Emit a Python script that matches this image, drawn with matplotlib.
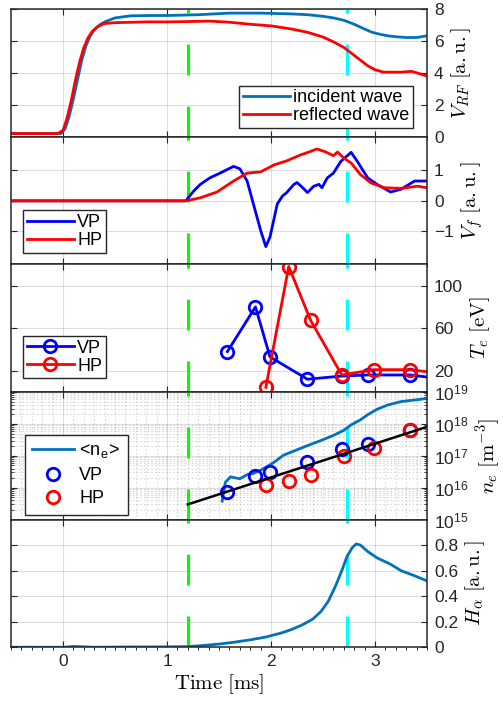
import numpy as np
import matplotlib
matplotlib.use("Agg")
import matplotlib.pyplot as plt
from matplotlib.ticker import MultipleLocator, LogLocator, NullFormatter

plt.rcParams['font.family'] = ['Liberation Sans', 'DejaVu Sans']
plt.rcParams['mathtext.fontset'] = 'cm'
plt.rcParams['lines.scale_dashes'] = False

# RF voltage: incident and reflected
t_inc = [-0.5, -0.02, 0.02, 0.06, 0.10, 0.14, 0.18, 0.22, 0.26, 0.30, 0.35, 0.40, 0.50,
         0.65, 0.85, 1.0, 1.3, 1.6, 1.9, 2.2, 2.35, 2.5, 2.6, 2.7, 2.8, 2.9, 2.97, 3.05,
         3.12, 3.2, 3.3, 3.4, 3.5]
v_inc = [0.2, 0.2, 0.5, 1.3, 2.4, 3.6, 4.8, 5.7, 6.3, 6.7, 7.0, 7.2, 7.45,
         7.58, 7.6, 7.6, 7.65, 7.75, 7.75, 7.7, 7.65, 7.55, 7.45, 7.3, 7.05, 6.75, 6.55, 6.42,
         6.33, 6.27, 6.22, 6.22, 6.33]
t_ref = [-0.5, -0.05, 0.0, 0.04, 0.08, 0.12, 0.16, 0.20, 0.24, 0.28, 0.33, 0.40, 0.50,
         0.8, 1.0, 1.2, 1.4, 1.6, 1.8, 2.0, 2.2, 2.35, 2.5, 2.6, 2.7, 2.78, 2.86, 2.93,
         3.0, 3.08, 3.15, 3.25, 3.35, 3.43, 3.5]
v_ref = [0.2, 0.2, 0.4, 1.2, 2.3, 3.6, 4.7, 5.6, 6.2, 6.6, 6.9, 7.1, 7.15,
         7.2, 7.2, 7.22, 7.25, 7.18, 7.05, 6.95, 6.75, 6.55, 6.25, 5.95, 5.6, 5.2, 4.8, 4.45,
         4.2, 4.05, 4.05, 4.05, 4.1, 3.95, 3.8]

# floating potential
t_vf_hp = [-0.5, 1.18, 1.32, 1.48, 1.64, 1.77, 1.9, 2.03, 2.15, 2.28, 2.38, 2.44, 2.52,
           2.6, 2.64, 2.7, 2.77, 2.86, 2.96, 3.09, 3.25, 3.41, 3.5]
vf_hp = [0, 0, 0.1, 0.29, 0.65, 0.91, 0.95, 1.18, 1.31, 1.5, 1.62, 1.7, 1.61,
         1.48, 1.6, 1.4, 1.24, 0.86, 0.59, 0.43, 0.41, 0.48, 0.43]
t_vf_vp = [-0.5, 1.18, 1.25, 1.32, 1.41, 1.51, 1.64, 1.70, 1.77, 1.83, 1.9, 1.95, 1.99,
           2.06, 2.11, 2.15, 2.22, 2.25, 2.32, 2.35, 2.41, 2.46, 2.49, 2.54, 2.6, 2.67,
           2.77, 2.83, 2.93, 3.02, 3.15, 3.25, 3.38, 3.5]
vf_vp = [0, 0, 0.3, 0.54, 0.75, 0.91, 1.13, 1.05, 0.65, -0.1, -0.97, -1.5, -1.18,
         -0.1, 0.16, 0.27, 0.54, 0.6, 0.38, 0.27, 0.48, 0.54, 0.43, 0.75, 0.91, 1.29,
         1.59, 1.29, 0.75, 0.54, 0.29, 0.38, 0.65, 0.65]

# electron temperature
t_te_vp = [1.58, 1.85, 1.99, 2.35, 2.68, 2.93, 3.34, 3.75]
te_vp = [38, 80, 33, 12, 15, 16, 16, 11]
t_te_hp = [1.95, 2.17, 2.38, 2.68, 2.99, 3.34, 3.75]
te_hp = [4.4, 118, 67.5, 16, 21, 21, 16]

# density: line-averaged, probes and exponential fit
t_nel = [1.53, 1.56, 1.61, 1.70, 1.77, 1.83, 1.90, 1.96, 2.03, 2.12, 2.22, 2.35, 2.48,
         2.60, 2.70, 2.77, 2.86, 2.93, 3.02, 3.12, 3.25, 3.41, 3.50]
log_nel = [15.58, 16.17, 16.34, 16.28, 16.41, 16.45, 16.55, 16.66, 16.80, 17.02, 17.15,
           17.32, 17.48, 17.64, 17.80, 17.97, 18.13, 18.29, 18.46, 18.59, 18.70, 18.76, 18.80]
t_ne_vp = [1.58, 1.85, 1.99, 2.35, 2.68, 2.93, 3.34]
log_ne_vp = [15.87, 16.37, 16.48, 16.80, 17.21, 17.37, 17.80]
t_ne_hp = [1.95, 2.17, 2.38, 2.70, 2.99, 3.34]
log_ne_hp = [16.10, 16.21, 16.41, 16.99, 17.24, 17.80]
t_fit = [1.2, 3.5]
ne_fit = [3.0e15, 8.1e17]

# H-alpha
t_ha = [-0.5, 0.0, 0.1, 0.3, 0.6, 1.0, 1.2, 1.35, 1.5, 1.65, 1.8, 1.95, 2.1, 2.2, 2.3,
        2.4, 2.48, 2.55, 2.62, 2.68, 2.73, 2.78, 2.82, 2.86, 2.93, 3.02, 3.15, 3.25,
        3.38, 3.5]
ha = [0.0, 0.0, 0.006, 0.0, 0.002, 0.003, 0.005, 0.014, 0.025, 0.04, 0.058, 0.08, 0.112,
      0.14, 0.175, 0.22, 0.28, 0.36, 0.48, 0.6, 0.71, 0.78, 0.81, 0.8, 0.75, 0.70, 0.65,
      0.60, 0.56, 0.52]

t_green = 1.2
t_cyan = 2.73

mblue = '#0072BD'
axcol = '#262626'

fig, axs = plt.subplots(5, 1, sharex=True, figsize=(5.03, 7.02), dpi=100)
fig.subplots_adjust(left=0.022, right=0.849, top=0.987, bottom=0.078, hspace=0)

def style(ax):
    for s in ax.spines.values():
        s.set_color(axcol)
        s.set_linewidth(1.1)
    ax.tick_params(direction='in', top=True, bottom=True, left=True, right=True,
                   labelleft=False, labelright=True, labelsize=12.5, colors=axcol,
                   length=4, width=0.8, pad=5)
    ax.grid(True, which='major', color=axcol, alpha=0.15, linewidth=0.8)
    ax.yaxis.set_label_position('right')
    ax.axvline(t_green, color='#00FF00', lw=2.2, dashes=(22.3, 22.3))
    ax.axvline(t_cyan, color='#00FFFF', lw=2.2, dashes=(22.3, 22.3))

def legend(ax, **kw):
    opts = dict(fontsize=13, fancybox=False, framealpha=1, edgecolor=axcol,
                handlelength=2.6, handletextpad=0.2, borderpad=0.2,
                labelspacing=0.05, borderaxespad=0)
    opts.update(kw)
    leg = ax.legend(**opts)
    leg.get_frame().set_linewidth(1.0)
    return leg

for ax in axs:
    style(ax)

# RF
ax = axs[0]
ax.plot(t_inc, v_inc, color=mblue, lw=2, label='incident wave')
ax.plot(t_ref, v_ref, color='r', lw=2, label='reflected wave')
ax.set_ylim(0, 8)
ax.set_yticks([0, 2, 4, 6, 8])
ax.set_ylabel(r'$V_{RF}\ \mathrm{[a.u.]}$', fontsize=15)
legend(ax, loc='lower right', bbox_to_anchor=(0.967, 0.07))

# Vf
ax = axs[1]
ax.plot(t_vf_vp, vf_vp, color='b', lw=2, label='VP')
ax.plot(t_vf_hp, vf_hp, color='r', lw=2, label='HP')
ax.set_ylim(-2.08, 2.1)
ax.set_yticks([-1, 0, 1])
ax.set_ylabel(r'$V_f\ \mathrm{[a.u.]}$', fontsize=15)
legend(ax, loc='lower left', bbox_to_anchor=(0.029, 0.093))

# Te
ax = axs[2]
ax.plot(t_te_vp, te_vp, color='b', lw=2, marker='o', ms=9, mfc='none', mew=2, label='VP')
ax.plot(t_te_hp, te_hp, color='r', lw=2, marker='o', ms=9, mfc='none', mew=2, label='HP')
ax.set_ylim(0, 120)
ax.set_yticks([20, 60, 100])
ax.set_ylabel(r'$T_e\ \mathrm{[eV]}$', fontsize=15)
legend(ax, loc='lower left', bbox_to_anchor=(0.029, 0.108))

# ne
ax = axs[3]
ax.set_yscale('log')
ax.plot(t_nel, 10 ** np.array(log_nel), color=mblue, lw=2, label=r'<n$_\mathregular{e}$>')
ax.plot(t_ne_vp, 10 ** np.array(log_ne_vp), ls='none', marker='o', ms=9, mfc='none',
        mec='b', mew=2, label='VP')
ax.plot(t_ne_hp, 10 ** np.array(log_ne_hp), ls='none', marker='o', ms=9, mfc='none',
        mec='r', mew=2, label='HP')
ax.plot(t_fit, ne_fit, color='k', lw=1.8)
ax.set_ylim(1e15, 1e19)
ax.yaxis.set_major_locator(LogLocator(base=10, numticks=10))
ax.yaxis.set_minor_locator(LogLocator(base=10, subs=np.arange(2, 10), numticks=10))
ax.yaxis.set_minor_formatter(NullFormatter())
ax.xaxis.set_minor_locator(MultipleLocator(0.1))
ax.tick_params(which='minor', direction='in', left=True, right=True, length=2.5,
               width=0.6, colors=axcol)
ax.tick_params(axis='x', which='minor', length=0)
ax.grid(True, which='minor', color=axcol, alpha=0.2, linewidth=0.8, linestyle=':')
ax.set_ylabel(r'$n_e\ \mathrm{[m^{-3}]}$', fontsize=15)
legend(ax, loc='lower left', bbox_to_anchor=(0.034, 0.04), borderpad=0.4,
       labelspacing=0.35, handlelength=2.3, handletextpad=0.3)

# H-alpha
ax = axs[4]
ax.plot(t_ha, ha, color=mblue, lw=2)
ax.set_ylim(0, 1)
ax.set_yticks([0, 0.2, 0.4, 0.6, 0.8])
ax.set_yticklabels(['0', '0.2', '0.4', '0.6', '0.8'])
ax.set_ylabel(r'$H_\alpha\ \mathrm{[a.u.]}$', fontsize=15)
ax.set_xlim(-0.5, 3.5)
ax.set_xticks([0, 1, 2, 3])
ax.set_xlabel(r'$\mathrm{Time\ [ms]}$', fontsize=15, labelpad=2)

fig.savefig('out.png', dpi=100)
